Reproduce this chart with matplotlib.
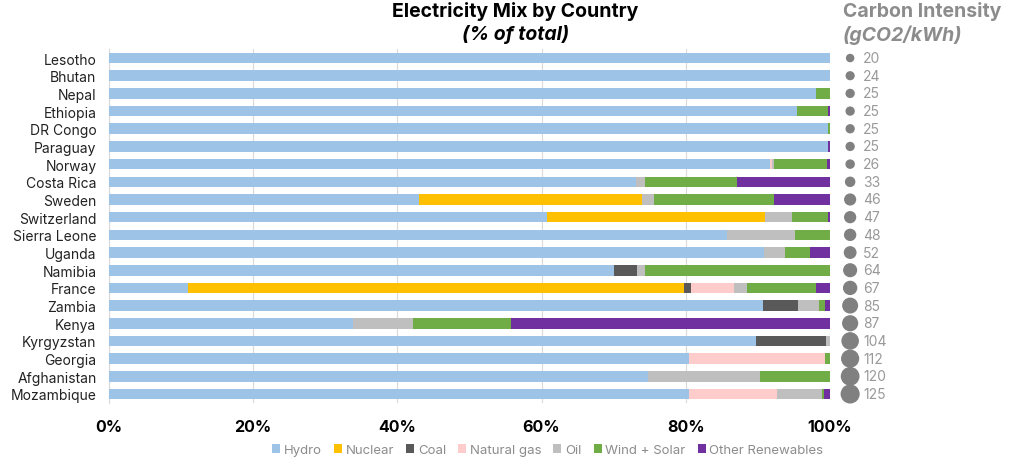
import numpy as np
import matplotlib.pyplot as plt

plt.rcParams['font.family'] = ['Inter', 'DejaVu Sans']

countries = ['Lesotho', 'Bhutan', 'Nepal', 'Ethiopia', 'DR Congo', 'Paraguay', 'Norway',
             'Costa Rica', 'Sweden', 'Switzerland', 'Sierra Leone', 'Uganda', 'Namibia',
             'France', 'Zambia', 'Kenya', 'Kyrgyzstan', 'Georgia', 'Afghanistan', 'Mozambique']

hydro   = [100, 100, 98.0, 95.4, 99.7, 99.7, 91.7, 73.1, 43.0, 60.8, 85.7, 90.8, 70.0, 10.9, 90.7, 33.8, 89.8, 80.5, 74.7, 80.4]
nuclear = [0, 0, 0, 0, 0, 0, 0, 0, 30.9, 30.2, 0, 0, 0, 68.9, 0, 0, 0, 0, 0, 0]
coal    = [0, 0, 0, 0, 0, 0, 0, 0, 0, 0, 0, 0, 3.2, 0.9, 4.9, 0, 9.6, 0, 0, 0]
gas     = [0, 0, 0, 0, 0, 0, 0.2, 0, 0, 0, 0, 0, 0, 6.0, 0, 0, 0, 18.8, 0, 12.2]
oil     = [0, 0, 0, 0, 0, 0, 0.3, 1.2, 1.7, 3.7, 9.5, 3.0, 1.2, 1.8, 2.9, 8.4, 0.6, 0, 15.6, 6.3]
wind    = [0, 0, 2.0, 4.3, 0.3, 0, 7.4, 12.8, 16.7, 5.0, 4.8, 3.4, 25.6, 9.6, 0.8, 13.6, 0, 0.7, 9.7, 0.3]
other   = [0, 0, 0, 0.3, 0, 0.3, 0.4, 12.9, 7.7, 0.3, 0, 2.8, 0, 1.9, 0.7, 44.2, 0, 0, 0, 0.8]

carbon = [20, 24, 25, 25, 25, 25, 26, 33, 46, 47, 48, 52, 64, 67, 85, 87, 104, 112, 120, 125]

series = [('Hydro', hydro, '#9DC3E6'), ('Nuclear', nuclear, '#FFC000'), ('Coal', coal, '#595959'),
          ('Natural gas', gas, '#FFCCCC'), ('Oil', oil, '#BFBFBF'),
          ('Wind + Solar', wind, '#70AD47'), ('Other Renewables', other, '#7030A0')]

fig = plt.figure(figsize=(10.24, 4.64), dpi=100)
ax = fig.add_axes([0.1064, 0.1297, 0.7041, 0.7621])

y = np.arange(len(countries))
left = np.zeros(len(countries))
for name, vals, col in series:
    vals = np.array(vals, dtype=float)
    ax.barh(y, vals, left=left, height=0.6, color=col, label=name, zorder=3)
    left += vals

ax.set_xlim(0, 100)
ax.set_ylim(len(countries) - 0.5, -0.5)
ax.set_yticks(y)
ax.set_yticklabels(countries, fontsize=10, color='#222222')
ax.set_xticks([0, 20, 40, 60, 80, 100])
ax.set_xticklabels(['0%', '20%', '40%', '60%', '80%', '100%'], fontsize=11.5, fontweight='bold')
ax.tick_params(axis='both', length=0)
ax.tick_params(axis='x', pad=12)
ax.tick_params(axis='y', pad=9)
ax.grid(axis='x', color='#d9d9d9', linewidth=0.8, zorder=0)
for s in ['top', 'right', 'bottom']:
    ax.spines[s].set_visible(False)
ax.spines['left'].set_color('#d9d9d9')

# carbon intensity dots
ax.scatter(np.full(len(countries), 102.8), y, s=np.array(carbon) * 1.3, color='#808080',
           clip_on=False, zorder=4)
for yi, c in zip(y, carbon):
    ax.text(104.6, yi, str(c), va='center', ha='left', fontsize=10, color='#999999')

fig.text(0.503, 0.975, 'Electricity Mix by Country', ha='center', va='center',
         fontsize=14, fontweight='bold', color='black')
fig.text(0.503, 0.925, '(% of total)', ha='center', va='center',
         fontsize=14, fontweight='bold', style='italic', color='black')
fig.text(0.823, 0.975, 'Carbon Intensity', ha='left', va='center',
         fontsize=14, fontweight='bold', color='#8c8c8c')
fig.text(0.823, 0.925, '(gCO2/kWh)', ha='left', va='center',
         fontsize=14, fontweight='bold', style='italic', color='#8c8c8c')

leg = fig.legend(loc='center', bbox_to_anchor=(0.535, 0.028), ncol=7, frameon=False,
                 fontsize=9.5, handlelength=0.6, handleheight=0.6, handletextpad=0.3,
                 columnspacing=0.9)
for t in leg.get_texts():
    t.set_color('#8c8c8c')

fig.savefig('out.png', dpi=100)
